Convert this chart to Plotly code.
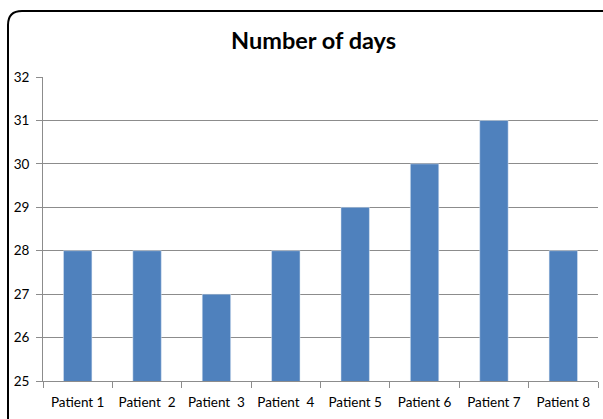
import plotly.graph_objects as go

categories = ["Patient 1", "Patient  2", "Patient  3", "Patient  4", "Patient 5", "Patient 6", "Patient 7", "Patient 8"]
days = [28, 28, 27, 28, 29, 30, 31, 28]
y_ticks = [25, 26, 27, 28, 29, 30, 31, 32]

W, H = 603, 419
L, R, T, B = 43, 5, 77, 38
pw, ph = W - L - R, H - T - B

def px(x):
    return (x - L) / pw

def py(y):
    return (H - B - y) / ph

fig = go.Figure(go.Bar(x=categories, y=days, marker_color="#4F81BD", width=0.41))

# rounded outer frame
x0, y0, x1, y1, r = 8, 11, 630, 440, 14
path = (f"M {px(x0)},{py(y1)} L {px(x0)},{py(y0 + r)} "
        f"Q {px(x0)},{py(y0)} {px(x0 + r)},{py(y0)} L {px(x1)},{py(y0)}")
fig.add_shape(type="path", path=path, xref="paper", yref="paper",
              line=dict(color="black", width=2))

fig.update_layout(
    width=W, height=H,
    margin=dict(l=L, r=R, t=T, b=B),
    paper_bgcolor="white", plot_bgcolor="white",
    font=dict(family="Lato, Open Sans, sans-serif", color="black", size=13),
    title=dict(text="<b>Number of days</b>", x=0.52, xanchor="center",
               y=1 - 41 / H, yanchor="middle", font=dict(size=23.5, family="Lato, sans-serif")),
    showlegend=False,
    bargap=0.5,
)
fig.update_yaxes(range=[25, 32], tickvals=y_ticks, showgrid=True, gridcolor="#8C8C8C", gridwidth=1,
                 showline=True, linecolor="#8C8C8C", ticks="outside", ticklen=6, tickcolor="#8C8C8C",
                 tickfont=dict(size=13.5), zeroline=False, ticklabelstandoff=4)
fig.update_xaxes(showline=True, linecolor="#8C8C8C", ticks="outside", tickson="boundaries",
                 ticklen=6, tickcolor="#8C8C8C", tickfont=dict(size=13.5), ticklabelstandoff=9)

fig.write_html("out.html", config={"displayModeBar": False},
               post_script="document.body.style.margin='0';")
